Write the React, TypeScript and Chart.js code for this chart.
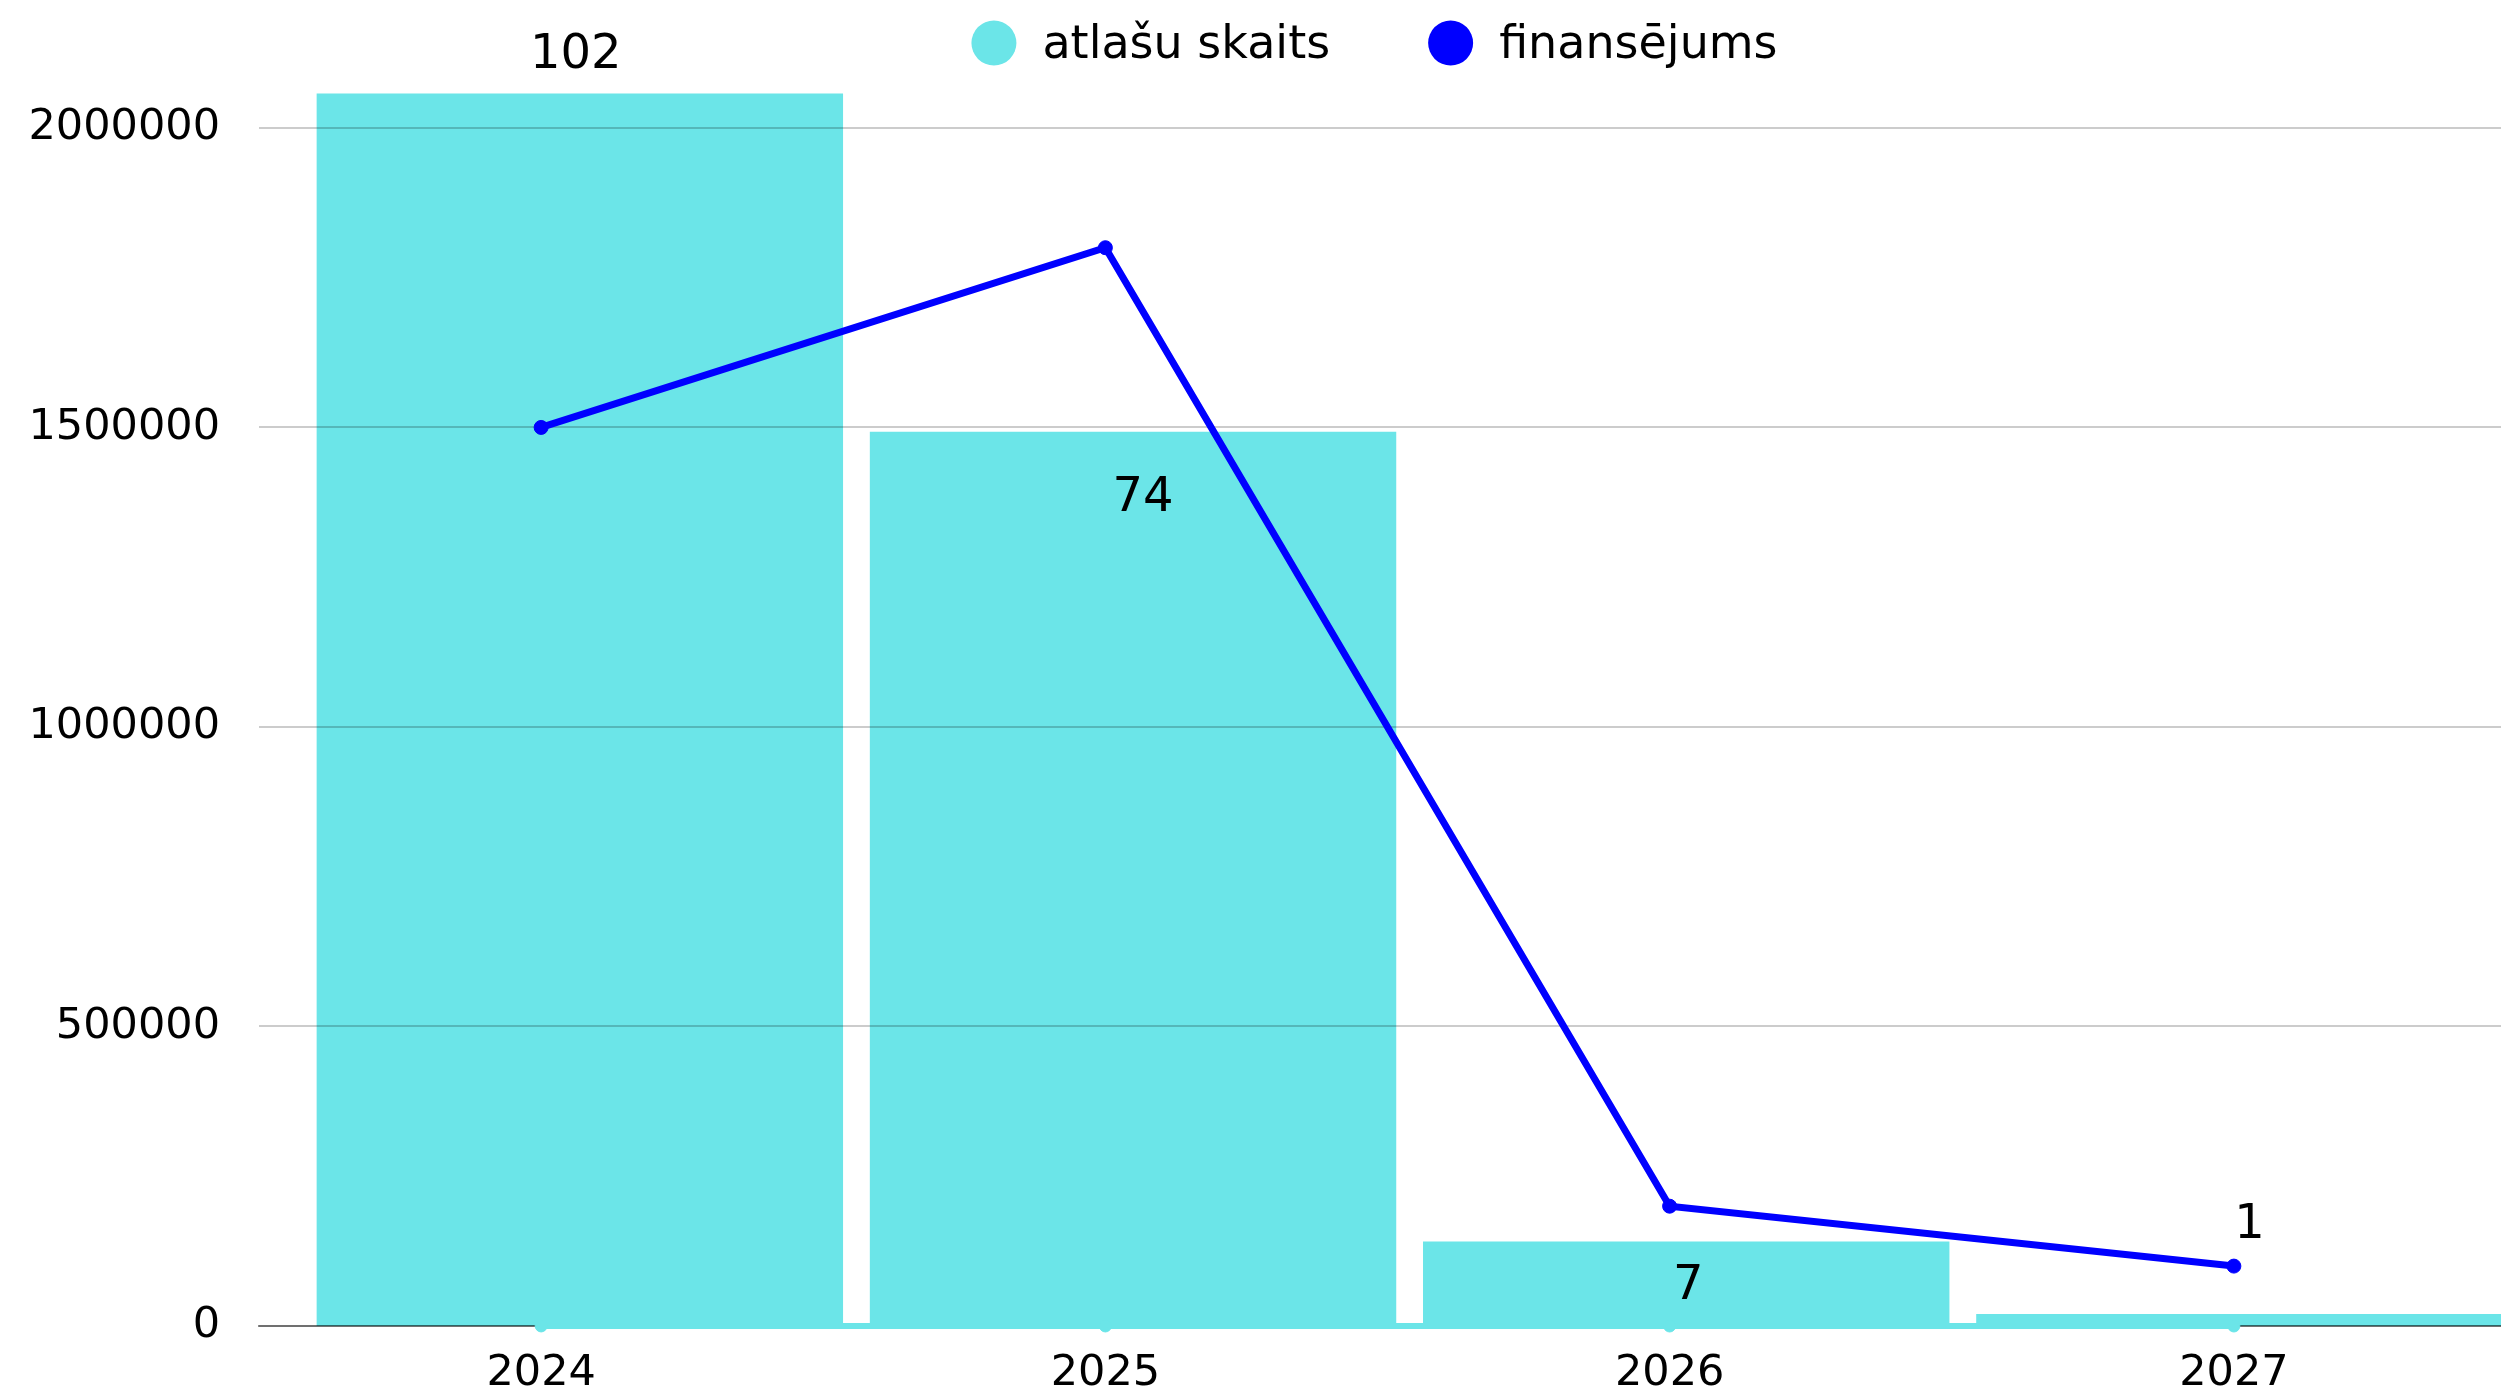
import React, { useEffect, useRef } from 'react';
import { Chart, registerables } from 'chart.js';

Chart.register(...registerables);

// ---- data ----
const YEARS = ['2024', '2025', '2026', '2027'];
const SELECTION_COUNTS = [102, 74, 7, 1];
const FUNDING = [1500000, 1800000, 200000, 100000];
const Y_TICKS = [0, 500000, 1000000, 1500000, 2000000];
const Y_MAX = 2100000;
const COUNT_AXIS_MAX = 104.1;

// ---- styles ----
const CYAN = '#6be5e8';
const BLUE = '#0000ff';
const FONT = '"DejaVu Sans", sans-serif';
const LABEL_OFFSETS = [-43, 62, 40, -93]; // label centre relative to bar top (px)
const LABEL_X_SHIFT = [-4, 10, 2, 10];

const barsBehindGrid = {
  id: 'barsBehindGrid',
  beforeDraw(chart: any) {
    const meta = chart.getDatasetMeta(0);
    const { ctx, chartArea: a } = chart;
    ctx.save();
    ctx.beginPath();
    ctx.rect(a.left, a.top, a.right - a.left, a.bottom - a.top);
    ctx.clip();
    meta.controller.draw();
    ctx.restore();
  },
  beforeDatasetDraw(_chart: any, args: any) {
    if (args.index === 0) return false;
    return true;
  },
};

const valueLabels = {
  id: 'valueLabels',
  afterDraw(chart: any) {
    const meta = chart.getDatasetMeta(0);
    const ctx = chart.ctx;
    const size = 48;
    ctx.save();
    ctx.font = `${size}px ${FONT}`;
    ctx.fillStyle = '#000';
    ctx.textAlign = 'center';
    ctx.textBaseline = 'alphabetic';
    meta.data.forEach((el: any, i: number) => {
      const cy = el.y + LABEL_OFFSETS[i];
      ctx.fillText(String(SELECTION_COUNTS[i]), el.x + LABEL_X_SHIFT[i], cy + size * 0.365);
    });
    ctx.restore();
  },
};

const customLegend = {
  id: 'customLegend',
  afterDraw(chart: any) {
    const ctx = chart.ctx;
    const items = [
      { text: 'atlašu skaits', color: CYAN },
      { text: 'finansējums', color: BLUE },
    ];
    const r = 22.5;
    const textGap = 26;
    const itemGap = 98;
    ctx.save();
    ctx.font = `46px ${FONT}`;
    const widths = items.map((it) => 2 * r + textGap + ctx.measureText(it.text).width);
    const total = widths.reduce((a, b) => a + b, 0) + itemGap * (items.length - 1);
    let x = (chart.chartArea.left + chart.chartArea.right) / 2 - 13 - total / 2;
    items.forEach((it, i) => {
      ctx.beginPath();
      ctx.fillStyle = it.color;
      ctx.arc(x + r, 43, r, 0, Math.PI * 2);
      ctx.fill();
      ctx.fillStyle = '#000';
      ctx.textAlign = 'left';
      ctx.textBaseline = 'alphabetic';
      ctx.fillText(it.text, x + 2 * r + textGap, 58);
      x += widths[i] + itemGap;
    });
    ctx.restore();
  },
};

export default function App() {
  const ref = useRef<HTMLCanvasElement | null>(null);

  useEffect(() => {
    if (!ref.current) return;
    const chart = new Chart(ref.current, {
      type: 'bar',
      data: {
        labels: YEARS,
        datasets: [
          {
            type: 'bar',
            label: 'atlašu skaits',
            data: SELECTION_COUNTS.map((v, i) => ({ x: i, y: v })),
            xAxisID: 'x2',
            yAxisID: 'y2',
            backgroundColor: CYAN,
            borderWidth: 0,
            grouped: false,
            categoryPercentage: 1,
            barPercentage: 0.9516,
          } as any,
          {
            type: 'line',
            label: 'atlašu skaits',
            data: SELECTION_COUNTS,
            xAxisID: 'x',
            yAxisID: 'y',
            borderColor: CYAN,
            backgroundColor: CYAN,
            borderWidth: 6,
            pointRadius: 6,
            pointBorderWidth: 1,
            pointBackgroundColor: CYAN,
            pointBorderColor: CYAN,
            clip: 12,
          } as any,
          {
            type: 'line',
            label: 'finansējums',
            data: FUNDING,
            xAxisID: 'x',
            yAxisID: 'y',
            borderColor: BLUE,
            backgroundColor: BLUE,
            borderWidth: 7,
            pointRadius: 7,
            pointBorderWidth: 1,
            pointBackgroundColor: BLUE,
            pointBorderColor: BLUE,
            clip: 12,
          } as any,
        ],
      },
      options: {
        responsive: false,
        animation: false,
        devicePixelRatio: 1,
        layout: { padding: { top: 68, left: 0, right: 0, bottom: 0 } },
        plugins: {
          legend: { display: false },
          tooltip: { enabled: false },
        },
        scales: {
          x: {
            type: 'category',
            offset: true,
            grid: { display: false },
            border: { display: true, color: 'rgba(0,0,0,0.45)', width: 2 },
            ticks: { color: '#000', font: { family: FONT, size: 43 }, padding: 14 },
            afterFit: (s: any) => {
              s.height = 66;
            },
          },
          x2: {
            type: 'linear',
            display: false,
            min: -0.58,
            max: 3.5,
            offset: false,
            afterBuildTicks: (s: any) => {
              s.ticks = SELECTION_COUNTS.map((_, i) => ({ value: i }));
            },
          },
          y: {
            type: 'linear',
            min: 0,
            max: Y_MAX,
            ticks: {
              color: '#000',
              font: { family: FONT, size: 43 },
              padding: 39,
              callback: (v: any) => String(v),
            },
            grid: { color: 'rgba(0,0,0,0.2)', lineWidth: 2, drawTicks: false },
            border: { display: false },
            afterBuildTicks: (s: any) => {
              s.ticks = Y_TICKS.map((v) => ({ value: v }));
            },
            afterFit: (s: any) => {
              s.width = 259;
            },
          },
          y2: {
            type: 'linear',
            display: false,
            min: 0,
            max: COUNT_AXIS_MAX,
          },
        },
      } as any,
      plugins: [barsBehindGrid, valueLabels, customLegend] as any,
    });
    return () => chart.destroy();
  }, []);

  return (
    <div
      style={{
        position: 'fixed',
        left: 0,
        top: 0,
        width: 2501,
        height: 1392,
        overflow: 'hidden',
        background: '#fff',
      }}
    >
      <canvas
        ref={ref}
        width={2524}
        height={1392}
        style={{ display: 'block', width: 2524, height: 1392 }}
      />
    </div>
  );
}
